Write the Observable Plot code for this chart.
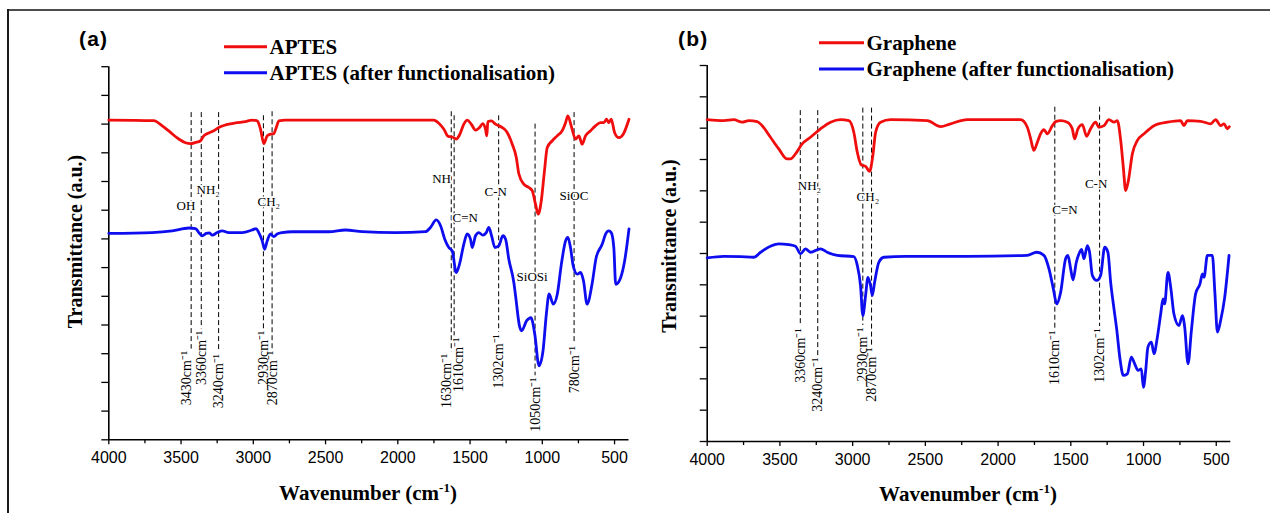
<!DOCTYPE html>
<html>
<head>
<meta charset="utf-8">
<script src="https://cdn.jsdelivr.net/npm/d3@7"></script>
<script src="https://cdn.jsdelivr.net/npm/@observablehq/plot@0.6"></script>
<style>
  html, body { margin: 0; padding: 0; background: #fff; }
  #chart { position: relative; width: 1270px; height: 513px; overflow: hidden; background: #fff; }
  #chart svg { position: absolute; top: 0; }
</style>
</head>
<body>
<div id="chart"></div>
<script>
// ---------- FTIR spectra (wavenumber in cm-1, transmittance in a.u.) ----------

// (a) APTES
const aptesWn = [4000, 3689, 3630, 3573, 3516, 3469, 3435, 3400, 3365, 3343, 3308, 3273, 3239, 3192, 3123, 3054, 3008, 2973, 2950, 2927, 2904, 2881, 2858, 2841, 2823, 2777, 1751, 1716, 1681, 1651, 1623, 1596, 1573, 1543, 1520, 1492, 1462, 1434, 1412, 1393, 1384, 1377, 1353, 1324, 1277, 1243, 1208, 1180, 1162, 1128, 1093, 1070, 1047, 1028, 1007, 985, 966, 931, 897, 862, 839, 823, 800, 770, 747, 724, 701, 666, 632, 597, 574, 555, 540, 523, 500, 470, 440, 400];
const aptesT = [111.4, 111.2, 109.4, 107.1, 104.8, 103.5, 103.2, 103.6, 104.2, 105.9, 106.9, 107.7, 108.8, 109.7, 110.4, 110.9, 111.4, 111.1, 108.2, 103.2, 105.9, 106.5, 106.7, 108.8, 111.1, 111.4, 111.4, 110.3, 108.2, 105.7, 105.5, 104.8, 106.2, 110.0, 111.4, 110.0, 107.9, 108.8, 110.2, 108.2, 105.9, 110.8, 111.1, 110.0, 108.8, 107.1, 103.0, 98.4, 92.6, 89.1, 87.9, 86.8, 82.1, 78.6, 83.3, 93.7, 101.8, 104.2, 105.9, 107.7, 110.5, 112.9, 109.4, 104.8, 105.9, 103.0, 105.9, 107.7, 109.4, 110.5, 110.5, 111.7, 110.5, 111.7, 107.1, 105.3, 106.5, 111.7];

// (a) APTES after functionalisation
const aptesFnWn = [4000, 3700, 3561, 3446, 3400, 3377, 3354, 3326, 3303, 3284, 3250, 3215, 3170, 3077, 3008, 2980, 2962, 2938, 2922, 2904, 2881, 2858, 2835, 2800, 2731, 2477, 2362, 2246, 2016, 1808, 1774, 1734, 1704, 1675, 1647, 1623, 1596, 1573, 1543, 1520, 1497, 1485, 1462, 1439, 1412, 1388, 1370, 1351, 1328, 1301, 1273, 1254, 1232, 1197, 1185, 1158, 1144, 1108, 1079, 1052, 1023, 995, 972, 953, 924, 896, 868, 839, 823, 805, 786, 758, 735, 715, 690, 656, 627, 585, 562, 540, 523, 505, 492, 458, 430, 400];
const aptesFnT = [71.9, 72.2, 72.8, 73.8, 73.6, 72.2, 71.1, 71.9, 72.1, 71.3, 72.2, 72.8, 72.2, 72.2, 73.1, 73.6, 72.2, 69.3, 66.4, 69.3, 71.7, 70.8, 71.7, 72.2, 72.5, 72.5, 73.1, 72.5, 72.2, 72.5, 74.0, 76.6, 74.6, 69.9, 67.0, 65.8, 58.3, 61.2, 68.2, 71.7, 69.9, 67.0, 71.1, 72.2, 71.3, 72.2, 74.0, 71.1, 67.0, 67.6, 71.1, 69.9, 63.0, 54.8, 50.2, 39.7, 38.0, 41.5, 42.6, 36.8, 25.8, 31.0, 43.8, 50.8, 47.3, 50.8, 61.2, 69.3, 70.5, 67.0, 60.6, 57.7, 58.3, 55.4, 47.3, 54.2, 63.5, 68.2, 71.7, 72.8, 72.2, 67.0, 54.2, 56.5, 62.4, 73.5];

// (b) Graphene
const grapheneWn = [4000, 3886, 3817, 3759, 3714, 3656, 3622, 3565, 3508, 3450, 3427, 3393, 3347, 3290, 3221, 3152, 3083, 3026, 2992, 2968, 2941, 2911, 2884, 2861, 2842, 2808, 2739, 2487, 2395, 2327, 2212, 1845, 1799, 1776, 1754, 1730, 1708, 1685, 1661, 1627, 1604, 1570, 1524, 1490, 1474, 1451, 1421, 1391, 1364, 1329, 1307, 1272, 1238, 1203, 1180, 1157, 1139, 1123, 1104, 1077, 1042, 997, 928, 836, 745, 722, 699, 607, 538, 504, 470, 447, 423, 410];
const grapheneT = [102.7, 102.4, 102.7, 101.9, 102.4, 102.1, 100.8, 97.1, 93.4, 90.2, 90.2, 91.8, 95.0, 97.1, 99.8, 101.9, 102.7, 102.4, 98.7, 92.3, 88.3, 87.8, 86.2, 91.3, 98.7, 101.9, 102.7, 102.4, 100.5, 101.4, 102.7, 102.7, 100.3, 96.6, 92.9, 95.5, 98.2, 99.5, 98.2, 100.8, 102.1, 102.4, 101.9, 99.8, 96.6, 99.8, 101.1, 97.4, 99.8, 101.9, 100.3, 100.8, 102.7, 101.9, 102.4, 96.1, 87.5, 80.1, 83.3, 91.8, 96.1, 98.2, 100.8, 101.9, 102.4, 100.8, 102.4, 102.2, 101.4, 102.7, 100.8, 101.4, 99.8, 100.5];

// (b) Graphene after functionalisation
const grapheneFnWn = [4000, 3886, 3771, 3680, 3633, 3565, 3508, 3439, 3393, 3358, 3324, 3290, 3221, 3175, 3106, 2992, 2968, 2946, 2930, 2911, 2895, 2877, 2865, 2849, 2820, 2785, 2636, 2212, 1799, 1735, 1685, 1650, 1620, 1597, 1570, 1536, 1520, 1501, 1485, 1462, 1439, 1426, 1410, 1386, 1371, 1352, 1322, 1295, 1267, 1245, 1226, 1203, 1185, 1162, 1139, 1111, 1084, 1061, 1038, 1015, 1001, 985, 970, 946, 928, 905, 882, 866, 855, 832, 813, 791, 756, 733, 717, 694, 671, 642, 612, 595, 584, 561, 527, 509, 492, 470, 442, 412];
const grapheneFnT = [58.6, 59.1, 59.0, 58.8, 60.4, 62.3, 63.1, 62.8, 62.3, 59.9, 61.5, 60.4, 61.5, 60.4, 59.4, 59.0, 56.2, 49.8, 40.2, 46.6, 52.4, 49.8, 46.6, 50.8, 57.2, 58.8, 59.1, 59.1, 59.4, 60.4, 59.4, 55.1, 48.7, 43.9, 47.6, 58.3, 59.4, 55.1, 51.6, 57.2, 60.4, 61.3, 58.3, 62.5, 60.4, 53.0, 51.4, 53.0, 62.0, 60.4, 50.8, 42.3, 36.0, 26.4, 21.1, 21.6, 26.9, 24.8, 22.7, 23.2, 17.3, 22.7, 30.1, 31.7, 28.0, 33.3, 40.7, 45.5, 43.9, 54.0, 49.2, 40.7, 37.0, 40.2, 36.5, 24.8, 35.4, 47.1, 50.3, 53.5, 52.4, 59.4, 59.4, 47.1, 34.9, 38.6, 46.0, 59.4];

// Series names
const seriesA = ["APTES", "APTES (after functionalisation)"];
const seriesB = ["Graphene", "Graphene (after functionalisation)"];

// Band assignments: dashed marker at wn from `top` down to `end`;
// the wavenumber label hangs below `end`, centred on `lx` when given.
const bandsA = [
  {wn: 3430, top: 114.0, end: 31.0, lx: 3462},
  {wn: 3360, top: 114.0, end: 38.0},
  {wn: 3240, top: 114.0, end: 29.9},
  {wn: 2930, top: 112.9, end: 38.0},
  {wn: 2870, top: 114.3, end: 31.0},
  {wn: 1630, top: 114.3, end: 30.0, lx: 1666},
  {wn: 1610, top: 112.9, end: 35.6, lx: 1582},
  {wn: 1302, top: 112.9, end: 36.8},
  {wn: 1050, top: 110.0, end: 21.7},
  {wn: 780,  top: 114.0, end: 32.7}
];
const bandsB = [
  {wn: 3360, top: 105.6, end: 36.1},
  {wn: 3240, top: 105.6, end: 26.8},
  {wn: 2930, top: 106.4, end: 36.4},
  {wn: 2870, top: 106.4, end: 30.0},
  {wn: 1610, top: 106.7, end: 35.4},
  {wn: 1302, top: 106.7, end: 36.1}
];

// Group labels (text starts at wn, baseline at t)
const groupsA = [
  {name: "OH",    wn: 3531, t: 80.1},
  {name: "NH₂",   wn: 3393, t: 85.8},
  {name: "CH₂",   wn: 2971, t: 81.5},
  {name: "NH",    wn: 1762, t: 89.6},
  {name: "C=N",   wn: 1621, t: 76.0},
  {name: "C-N",   wn: 1400, t: 85.0},
  {name: "SiOC",  wn: 881,  t: 83.5},
  {name: "SiOSi", wn: 1178, t: 55.4}
];
const groupsB = [
  {name: "NH₂", wn: 3377, t: 80.3},
  {name: "CH₂", wn: 2973, t: 76.6},
  {name: "C=N", wn: 1627, t: 72.7},
  {name: "C-N", wn: 1403, t: 80.8}
];

// Axis ticks
const xMajorTicks = [4000, 3500, 3000, 2500, 2000, 1500, 1000, 500];
const xMinorTicks = [3750, 3250, 2750, 2250, 1750, 1250, 750];
const yTicksA = d3.range(0, 131, 10);
const yTicksB = d3.range(0, 121, 10);

// ---------- drawing ----------
const SERIF = "'Liberation Serif', 'Times New Roman', Times, serif";
const SANS = "'Liberation Sans', Arial, Helvetica, sans-serif";
const RED = "#f00d0d";
const BLUE = "#0d0df0";

const rows = (wn, t) => wn.map((w, i) => ({w, t: t[i]}));

function drawPanel(cfg) {
  return Plot.plot({
    width: 635,
    height: 513,
    marginLeft: cfg.ml,
    marginRight: cfg.mr,
    marginTop: cfg.mt,
    marginBottom: cfg.mb,
    x: {domain: [4000, 400]},
    y: {domain: [0, cfg.yMax]},
    style: {background: "transparent", fontFamily: SANS, fontSize: "16px", color: "#000", overflow: "visible"},
    marks: [
      Plot.axisY({ticks: cfg.yTicks, tickSize: 7, tickFormat: () => "", label: null, strokeWidth: 1.3}),
      Plot.axisX({ticks: xMinorTicks, tickSize: 4, tickFormat: () => "", label: null, strokeWidth: 1.3}),
      Plot.axisX({ticks: xMajorTicks, tickSize: 5, tickPadding: 7, tickFormat: d3.format("d"), label: null, strokeWidth: 1.3}),
      Plot.ruleX([4000], {stroke: "#000", strokeWidth: 1.6}),
      Plot.ruleY([0], {stroke: "#000", strokeWidth: 1.6}),
      Plot.ruleX(cfg.bands, {x: "wn", y1: "top", y2: d => d.end + 0.6, stroke: "#000", strokeWidth: 1, strokeDasharray: "5,3"}),
      Plot.text(cfg.bands, {x: d => d.lx ?? d.wn, y: "end", text: d => `${d.wn}cm⁻¹`, rotate: -90, textAnchor: "end", lineAnchor: "middle", fontFamily: SERIF, fontSize: 14, fill: "#000"}),
      Plot.text(cfg.groups, {x: "wn", y: "t", text: "name", textAnchor: "start", lineAnchor: "bottom", fontFamily: SERIF, fontSize: 13, fill: "#000", stroke: "#fff", strokeWidth: 3}),
      Plot.line(cfg.curves[0], {x: "w", y: "t", stroke: RED, strokeWidth: 2.8, curve: "monotone-x"}),
      Plot.line(cfg.curves[1], {x: "w", y: "t", stroke: BLUE, strokeWidth: 2.8, curve: "monotone-x"})
    ]
  });
}

const chart = document.getElementById("chart");

const svgA = drawPanel({
  ml: 108.3, mr: 6.5, mt: 66.2, mb: 73.7, yMax: 130, yTicks: yTicksA,
  bands: bandsA, groups: groupsA,
  curves: [rows(aptesWn, aptesT), rows(aptesFnWn, aptesFnT)]
});
svgA.style.left = "0px";
chart.appendChild(svgA);

const svgB = drawPanel({
  ml: 71.7, mr: 39.7, mt: 65, mb: 72, yMax: 120, yTicks: yTicksB,
  bands: bandsB, groups: groupsB,
  curves: [rows(grapheneWn, grapheneT), rows(grapheneFnWn, grapheneFnT)]
});
svgB.style.left = "635px";
chart.appendChild(svgB);

// Frame, panel letters, axis titles and legends
const over = d3.create("svg")
  .attr("width", 1270).attr("height", 513)
  .style("left", "0px").style("top", "0px");

over.append("line").attr("x1", 8).attr("y1", 10).attr("x2", 1270).attr("y2", 10)
  .attr("stroke", "#4d4d4d").attr("stroke-width", 2);
over.append("line").attr("x1", 8).attr("y1", 9).attr("x2", 8).attr("y2", 513)
  .attr("stroke", "#1a1a1a").attr("stroke-width", 2);

const panels = [
  {letter: "(a)", lx: 79, yx: 82, yy: 241.5, xx: 368, xy: 500,
   legX1: 224, legX2: 267, legY: [46.7, 72.7], names: seriesA},
  {letter: "(b)", lx: 678, yx: 676, yy: 246, xx: 968, xy: 501,
   legX1: 819, legX2: 864, legY: [42.7, 69], names: seriesB}
];

panels.forEach(p => {
  over.append("text").attr("x", p.lx).attr("y", 46)
    .attr("font-family", SANS).attr("font-weight", "bold").attr("font-size", 21)
    .attr("letter-spacing", 1.2).text(p.letter);

  over.append("text")
    .attr("transform", `translate(${p.yx},${p.yy}) rotate(-90)`)
    .attr("text-anchor", "middle")
    .attr("font-family", SERIF).attr("font-weight", "bold").attr("font-size", 20)
    .text("Transmittance (a.u.)");

  const xt = over.append("text").attr("x", p.xx).attr("y", p.xy)
    .attr("text-anchor", "middle")
    .attr("font-family", SERIF).attr("font-weight", "bold").attr("font-size", 21);
  xt.append("tspan").text("Wavenumber (cm");
  xt.append("tspan").attr("dy", -8).attr("font-size", 13).text("-1");
  xt.append("tspan").attr("dy", 8).text(")");

  p.names.forEach((name, i) => {
    over.append("line")
      .attr("x1", p.legX1).attr("x2", p.legX2)
      .attr("y1", p.legY[i]).attr("y2", p.legY[i])
      .attr("stroke", i === 0 ? RED : BLUE).attr("stroke-width", 3);
    over.append("text")
      .attr("x", p.legX2 + 2.5).attr("y", p.legY[i] + 7.2)
      .attr("font-family", SERIF).attr("font-weight", "bold").attr("font-size", 21)
      .text(name);
  });
});

chart.appendChild(over.node());
</script>
</body>
</html>
